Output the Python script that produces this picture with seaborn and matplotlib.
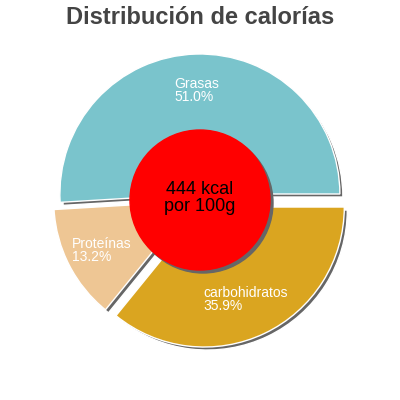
import seaborn as sns
import matplotlib
matplotlib.use("Agg")
from matplotlib import pyplot as plt
from matplotlib.patches import Circle

# data
labels = ["Grasas", "Proteínas", "carbohidratos"]
values = [51.0, 13.2, 35.9]
colors = ["#7ac4cc", "#eec694", "#daa520"]
explode = [4, 7, 10]  # pie offsets in data units (= px here)
center_text = "444 kcal\npor 100g"
title = "Distribución de calorías"

sns.set_theme(style="white")
plt.rcParams["font.family"] = ["Liberation Sans", "DejaVu Sans"]

fig = plt.figure(figsize=(4, 4), dpi=100)
ax = fig.add_axes([0, 0, 1, 1])

R = 140
# shadow
ax.pie(values, colors=["#666666"] * 3, startangle=0, counterclock=True,
       explode=explode, radius=R, center=(3, -3), normalize=True)
# slices
ax.pie(values, colors=colors, startangle=0, counterclock=True,
       explode=explode, radius=R, center=(0, 0), normalize=True)

# center circle
ax.add_patch(Circle((3, -5), 70, color="#666666", zorder=3))
ax.add_patch(Circle((0, -2), 70, color="#ff0000", zorder=4))
ax.text(0, 0, center_text, ha="center", va="center", fontsize=13,
        color="black", linespacing=1.0, zorder=5)

# slice labels
label_pos = [(-26, 121), (-128, -39), (3, -88)]
for lab, v, (x, y) in zip(labels, values, label_pos):
    ax.text(x, y, f"{lab}\n{v:.1f}%", ha="left", va="top", fontsize=10,
            color="white", linespacing=0.9, zorder=5)

ax.text(0, 180, title, ha="center", va="center", fontsize=17,
        fontweight="bold", color="#444444")

ax.set_xlim(-200, 200)
ax.set_ylim(-202, 198)
ax.set_aspect("equal")
ax.axis("off")

fig.savefig("out.png", dpi=100)
